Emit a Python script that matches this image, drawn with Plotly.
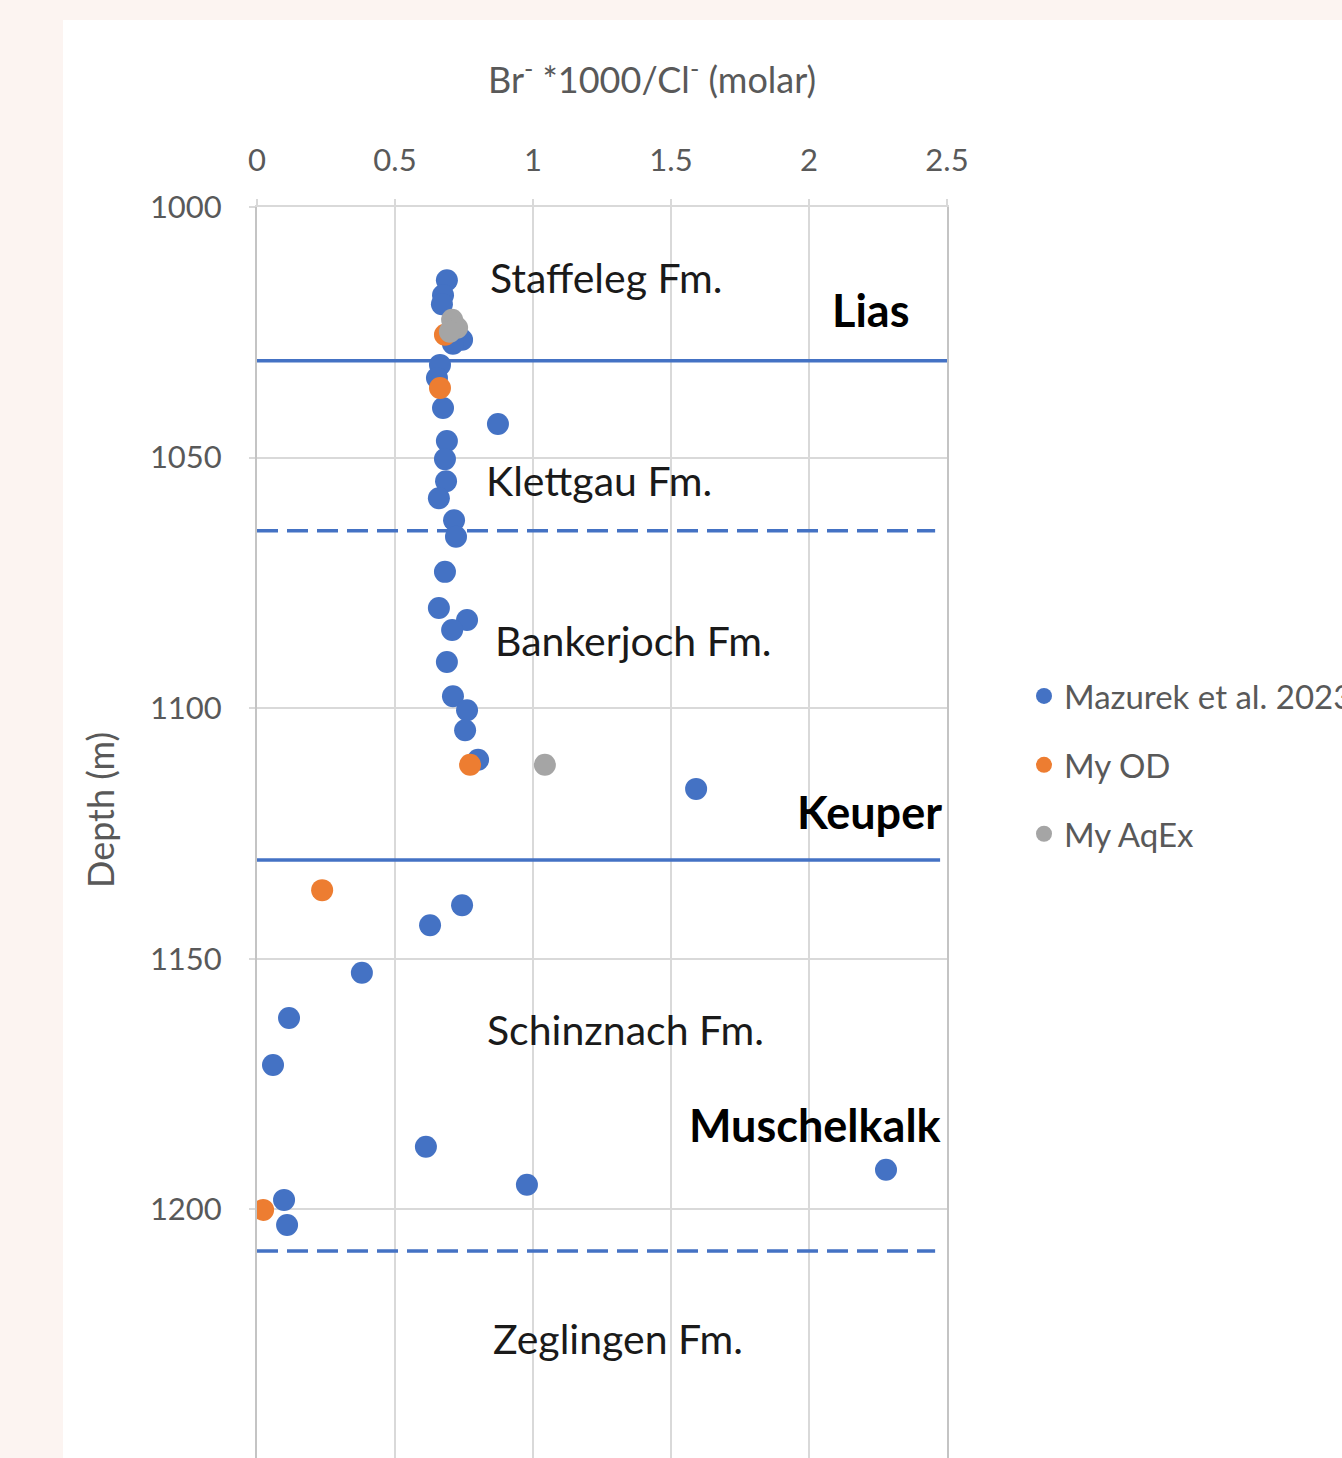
import plotly.graph_objects as go

# ---------------- data ----------------
# Mazurek et al. 2023 (Br*1000/Cl molar, depth m)
maz_ratio = [0.688, 0.674, 0.670, 0.743, 0.710, 0.663, 0.652, 0.674, 0.873, 0.688,
             0.681, 0.685, 0.659, 0.714, 0.721, 0.681, 0.659, 0.761, 0.707, 0.688,
             0.710, 0.761, 0.754, 0.801, 1.591, 0.743, 0.627, 0.380, 0.116, 0.058,
             0.612, 2.279, 0.978, 0.098, 0.109]
maz_depth = [1014.6, 1017.6, 1019.4, 1026.5, 1027.3, 1031.5, 1034.1, 1040.1, 1043.3, 1046.7,
             1050.3, 1054.7, 1058.1, 1062.5, 1065.8, 1072.8, 1080.0, 1082.4, 1084.4, 1090.8,
             1097.6, 1100.4, 1104.4, 1110.3, 1116.1, 1139.3, 1143.3, 1152.8, 1161.8, 1171.2,
             1187.5, 1192.1, 1195.1, 1198.1, 1203.1]

od_ratio = [0.681, 0.663, 0.772, 0.236, 0.022]
od_depth = [1025.5, 1036.1, 1111.3, 1136.3, 1200.1]

aqex_ratio = [0.707, 0.725, 0.699, 1.043]
aqex_depth = [1022.5, 1024.1, 1024.9, 1111.3]

# formation / unit boundaries (depth, x-extent, style)
boundary_depth = [1030.7, 1064.6, 1130.3, 1208.3]
boundary_xend = [2.5, 2.457, 2.475, 2.457]
boundary_dash = ["solid", "21px,9px", "solid", "21px,9px"]

# labels
fm_labels = ["Staffeleg Fm.", "Klettgau Fm.", "Bankerjoch Fm.", "Schinznach Fm.", "Zeglingen Fm."]
fm_x = [0.836, 0.822, 0.854, 0.826, 0.848]
fm_y = [1014.0, 1054.5, 1086.4, 1164.2, 1225.7]

unit_labels = ["Lias", "Keuper", "Muschelkalk"]
unit_x = [2.370, 2.489, 2.489]
unit_y = [1020.6, 1120.7, 1183.2]

x_ticks = [0, 0.5, 1, 1.5, 2, 2.5]
y_ticks = [1000, 1050, 1100, 1150, 1200, 1250]

x_title = "Br<sup>-</sup> *1000/Cl<sup>-</sup> (molar)"
y_title = "Depth (m)"

# ---------------- styling ----------------
BLUE = "#4472c4"
ORANGE = "#ed7d31"
GREY = "#a5a5a5"
FONT = "Lato"
TXT = "#595959"
GRID = "#d9d9d9"

fig = go.Figure()

for d, xe, ds in zip(boundary_depth, boundary_xend, boundary_dash):
    fig.add_trace(go.Scatter(x=[0, xe], y=[d, d], mode="lines",
                             line=dict(color=BLUE, width=3.5, dash=ds),
                             showlegend=False, hoverinfo="skip"))

fig.add_trace(go.Scatter(x=maz_ratio, y=maz_depth, mode="markers", name="Mazurek et al. 2023",
                         legendgroup="a",
                         marker=dict(color=BLUE, size=22, line=dict(width=0))))
fig.add_trace(go.Scatter(x=od_ratio, y=od_depth, mode="markers", name="My OD",
                         legendgroup="b",
                         marker=dict(color=ORANGE, size=22, line=dict(width=0))))
fig.add_trace(go.Scatter(x=aqex_ratio, y=aqex_depth, mode="markers", name="My AqEx",
                         legendgroup="c",
                         marker=dict(color=GREY, size=22, line=dict(width=0))))

for t, x, y in zip(fm_labels, fm_x, fm_y):
    fig.add_annotation(x=x, y=y, text=t, showarrow=False, xanchor="left", yanchor="middle",
                       font=dict(family=FONT, size=41, color="#1a1a1a"))
for t, x, y in zip(unit_labels, unit_x, unit_y):
    fig.add_annotation(x=x, y=y, text="<b>" + t + "</b>", showarrow=False, xanchor="right",
                       yanchor="middle", font=dict(family=FONT, size=45, color="#000000"))

W, H = 1342, 1460          # viewport is 1458 tall; the last rows fall just below it
L, T = 257, 207
R = W - 947
PW = W - L - R
PH = H - T

# axis titles placed as annotations (offset from plot centre as in the reference)
fig.add_annotation(text=x_title, xref="paper", yref="paper",
                   x=(652 - L) / PW, y=(H - 77) / PH, xanchor="center", yanchor="middle",
                   showarrow=False, font=dict(family=FONT, size=36, color=TXT))
fig.add_annotation(text=y_title, xref="paper", yref="paper",
                   x=(100 - L) / PW, y=(H - 810) / PH, xanchor="center", yanchor="middle",
                   textangle=-90, showarrow=False, font=dict(family=FONT, size=36, color=TXT))

fig.update_layout(
    width=W, height=H,
    margin=dict(l=L, r=R, t=T, b=0, autoexpand=False),
    paper_bgcolor="#fcf4f1",
    plot_bgcolor="white",
    font=dict(family=FONT, color=TXT),
    showlegend=True,
    legend=dict(x=1024 / W, xref="container", xanchor="left",
                y=1 - 765 / H, yref="container", yanchor="middle",
                font=dict(family=FONT, size=33, color=TXT),
                traceorder="grouped", tracegroupgap=23,
                bgcolor="rgba(0,0,0,0)", itemsizing="trace"),
    shapes=[dict(type="rect", xref="paper", yref="paper", layer="below",
                 x0=(63 - L) / PW, x1=3,
                 y0=-0.2, y1=1 + (T - 20) / PH,
                 fillcolor="white", line=dict(width=0))],
    xaxis=dict(range=[0, 2.5], side="top", tickvals=x_ticks,
               ticktext=[str(v) for v in x_ticks],
               showgrid=True, gridcolor=GRID, gridwidth=2,
               zeroline=False, showline=True, linecolor=GRID, linewidth=2,
               ticks="outside", ticklen=6, tickcolor=GRID, tickwidth=2,
               ticklabelstandoff=16,
               tickfont=dict(family=FONT, size=31, color=TXT)),
    yaxis=dict(range=[1250, 1000], tickvals=y_ticks,
               showgrid=True, gridcolor=GRID, gridwidth=2,
               zeroline=False, showline=True, linecolor="#c4c4c4", linewidth=2,
               mirror=True,
               ticks="outside", ticklen=6, tickcolor=GRID, tickwidth=2,
               ticklabelstandoff=21,
               tickfont=dict(family=FONT, size=31, color=TXT)),
)

fig.write_html("out.html", config={"displayModeBar": False},
               post_script="document.body.style.margin='0px';document.body.style.overflow='hidden';")
